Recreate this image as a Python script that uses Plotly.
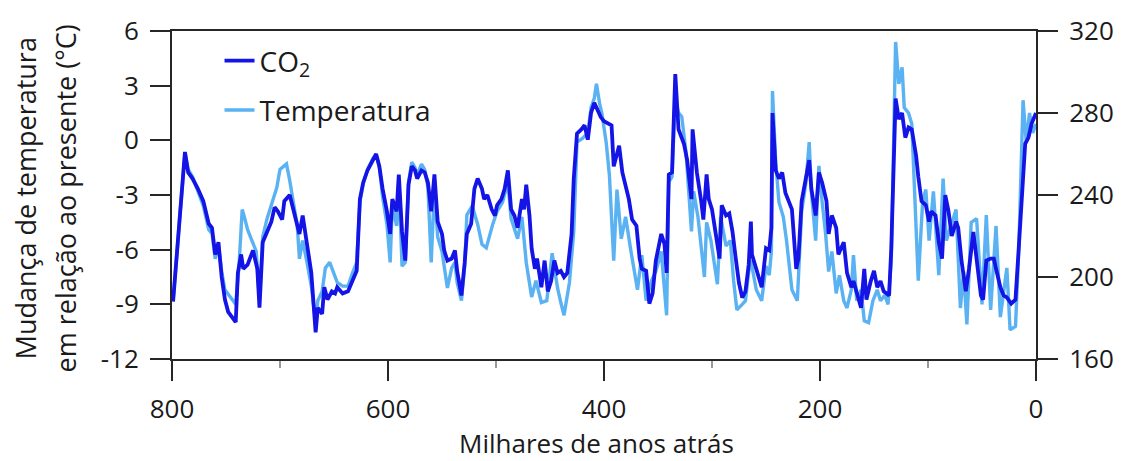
import plotly.graph_objects as go

# ---- data ----
co2_age = [799, 788, 785, 781, 776, 771, 766, 763, 760, 757, 754, 751, 748, 744, 741, 739, 736, 734, 730, 725,
           721, 719, 716, 712, 708, 705, 702, 698, 696, 691, 688, 684, 682, 679, 675, 671, 667, 665, 661, 659,
           656, 652, 649, 647, 642, 637, 633, 629, 626, 623, 619, 614, 611, 608, 605, 601, 598, 596, 592, 590,
           587, 584, 581, 578, 575, 573, 569, 566, 563, 560, 557, 554, 550, 548, 545, 541, 538, 536, 532, 529,
           527, 523, 520, 517, 513, 511, 508, 504, 501, 499, 495, 492, 489, 486, 483, 480, 476, 474, 472, 469,
           467, 464, 462, 458, 455, 452, 449, 446, 443, 440, 437, 434, 430, 428, 425, 421, 418, 415, 412, 409,
           406, 403, 400, 397, 393, 391, 386, 383, 379, 377, 374, 370, 367, 365, 361, 358, 355, 352, 347, 344,
           342, 340, 337, 334, 331, 329, 326, 323, 319, 318, 314, 310, 308, 305, 303, 300, 296, 293, 291, 287,
           284, 281, 278, 275, 272, 269, 266, 264, 263, 259, 257, 254, 250, 247, 245, 244, 241, 238, 235, 232,
           229, 226, 222, 220, 217, 213, 210, 208, 204, 201, 198, 194, 192, 189, 185, 183, 178, 175, 171, 169,
           166, 162, 159, 157, 153, 150, 147, 144, 141, 138, 136, 134, 132, 130, 127, 124, 121, 118, 115, 111,
           109, 106, 102, 99, 97, 93, 90, 87, 84, 81, 78, 74, 72, 69, 65, 62, 58, 55, 51, 49,
           46, 42, 39, 37, 33, 30, 27, 23, 19, 16, 13, 10, 7, 4, 0]
co2_ppm = [188, 261, 251, 248, 243, 237, 226, 224, 211, 217, 200, 189, 183, 180, 178, 202, 211, 204, 206, 213,
           204, 185, 217, 222, 227, 234, 232, 228, 237, 240, 233, 224, 221, 230, 217, 202, 173, 185, 182, 195,
           189, 193, 192, 195, 192, 193, 198, 203, 238, 246, 252, 257, 260, 254, 243, 232, 221, 238, 232, 250,
           222, 208, 245, 254, 252, 248, 252, 251, 246, 232, 250, 227, 221, 213, 208, 209, 213, 203, 191, 207,
           221, 226, 243, 248, 243, 238, 240, 233, 230, 235, 238, 243, 252, 233, 230, 224, 238, 233, 245, 230,
           214, 204, 209, 195, 208, 193, 198, 208, 202, 203, 200, 202, 221, 248, 270, 272, 274, 267, 280, 285,
           281, 278, 276, 275, 274, 254, 264, 251, 243, 238, 228, 225, 209, 204, 203, 187, 192, 208, 221, 216,
           202, 250, 251, 299, 272, 269, 265, 257, 238, 272, 251, 237, 228, 250, 238, 233, 219, 209, 235, 230,
           231, 222, 209, 197, 190, 193, 206, 227, 211, 204, 201, 195, 214, 213, 224, 280, 252, 248, 251, 241,
           237, 233, 204, 209, 237, 250, 257, 243, 230, 251, 246, 237, 221, 230, 224, 211, 217, 202, 195, 198,
           192, 185, 204, 189, 198, 203, 195, 198, 193, 192, 191, 214, 256, 287, 277, 280, 268, 273, 272, 259,
           249, 237, 235, 227, 232, 230, 217, 209, 240, 232, 220, 227, 224, 208, 193, 204, 222, 208, 191, 189,
           208, 209, 209, 204, 195, 191, 190, 187, 189, 214, 240, 265, 268, 275, 280]

temp_age = [799, 794, 788, 785, 781, 776, 771, 766, 763, 760, 757, 754, 751, 746, 741, 738, 735, 733, 730, 726,
            722, 719, 716, 712, 708, 703, 700, 696, 694, 691, 688, 684, 682, 679, 675, 671, 667, 665, 661, 658,
            654, 650, 647, 642, 637, 633, 629, 626, 623, 619, 614, 611, 608, 605, 601, 598, 596, 592, 590, 587,
            584, 581, 578, 575, 573, 569, 566, 563, 560, 557, 554, 550, 548, 545, 541, 538, 536, 532, 529, 527,
            522, 517, 513, 509, 503, 499, 494, 489, 486, 480, 476, 472, 467, 463, 458, 453, 448, 443, 440, 437,
            432, 428, 425, 420, 415, 412, 409, 407, 404, 402, 398, 395, 391, 388, 384, 380, 375, 369, 365, 361,
            356, 352, 347, 342, 340, 337, 334, 331, 328, 324, 319, 317, 313, 307, 305, 301, 295, 292, 287, 283,
            280, 277, 272, 269, 266, 264, 259, 254, 250, 247, 245, 244, 241, 238, 234, 231, 226, 221, 217, 213,
            210, 208, 204, 201, 198, 195, 192, 189, 185, 182, 178, 175, 171, 169, 166, 162, 159, 155, 151, 147,
            144, 140, 137, 134, 132, 130, 127, 124, 122, 118, 115, 111, 109, 105, 102, 99, 95, 90, 86, 83,
            79, 74, 70, 67, 64, 60, 55, 50, 46, 42, 37, 33, 27, 24, 19, 16, 12, 9, 6, 3, 0]
temp_c = [-8.8, -5.0, -0.7, -1.6, -2.0, -2.8, -3.6, -4.9, -5.1, -6.5, -5.8, -7.2, -8.2, -8.6, -9.0, -6.9, -3.8, -4.2, -4.9, -5.5,
          -6.1, -8.8, -5.3, -4.3, -3.6, -2.6, -1.6, -1.4, -1.3, -2.2, -3.4, -4.7, -6.5, -5.5, -6.7, -8.0, -10.0, -8.8, -8.3, -7.0,
          -6.7, -7.3, -7.8, -8.0, -8.0, -7.3, -6.7, -3.4, -2.4, -1.6, -1.0, -0.8, -1.5, -3.1, -4.6, -6.7, -3.6, -4.7, -2.2, -6.9,
          -6.7, -2.3, -1.2, -1.5, -1.9, -1.3, -1.6, -2.6, -6.7, -2.6, -5.3, -6.1, -7.0, -8.1, -7.0, -6.7, -7.8, -8.8, -6.9, -4.1,
          -3.6, -4.6, -5.7, -5.9, -4.6, -3.9, -3.4, -2.3, -4.3, -5.4, -4.2, -6.7, -8.6, -7.7, -8.9, -8.8, -6.2, -8.1, -8.9, -9.6,
          -7.8, -5.0, -0.1, 0.1, 0.4, 1.8, 2.3, 3.1, 2.0, 1.5, -0.1, -1.9, -6.6, -2.7, -5.4, -4.2, -6.1, -8.2, -6.3, -8.8,
          -7.7, -7.2, -6.1, -9.6, -2.3, -2.0, 2.3, 1.5, 1.3, -0.7, -5.0, -2.8, -4.2, -7.5, -4.5, -5.5, -7.9, -4.2, -5.8, -5.5,
          -7.7, -9.3, -9.0, -8.8, -7.2, -6.6, -8.2, -8.8, -6.9, -7.4, -6.1, 2.7, -1.2, -3.4, -4.2, -5.5, -8.2, -8.8, -3.9, -2.3,
          -0.1, -2.8, -5.5, -1.4, -3.4, -5.0, -7.2, -6.1, -8.4, -7.4, -8.8, -9.2, -8.2, -6.3, -8.8, -8.2, -9.9, -10.0, -8.8, -8.2,
          -8.8, -8.5, -9.0, -6.6, -0.7, 5.4, 3.1, 4.0, 1.8, 1.5, 0.9, -4.8, -7.7, -3.4, -2.7, -5.5, -2.8, -7.4, -2.1, -5.5,
          -4.7, -3.8, -9.2, -7.2, -10.1, -4.5, -4.3, -9.0, -4.1, -9.3, -4.7, -9.7, -7.0, -10.4, -10.2, -6.1, 2.2, -0.1, 1.5, 0.4, 0.9]

assert len(co2_age) == len(co2_ppm), (len(co2_age), len(co2_ppm))
assert len(temp_age) == len(temp_c), (len(temp_age), len(temp_c))

x_ticks = [800, 600, 400, 200, 0]
x_labels = ["800", "600", "400", "200", "0"]
t_ticks = [6, 3, 0, -3, -6, -9, -12]
t_labels = ["6", "3", "0", "-3", "-6", "-9", "-12"]
c_ticks = [320, 280, 240, 200, 160]
c_labels = ["320", "280", "240", "200", "160"]

FONT = "Open Sans"
TXT = "#1a1a1a"
AX = "#262626"

fig = go.Figure()
fig.add_trace(go.Scatter(x=co2_age, y=co2_ppm, mode="lines", name="CO<sub>2</sub>", yaxis="y2",
                         line=dict(color="#1414e6", width=3.8), legendrank=1, legendgroup="a"))
fig.add_trace(go.Scatter(x=temp_age, y=temp_c, mode="lines", name="Temperatura", yaxis="y",
                         line=dict(color="#5ab2f2", width=3.4), legendrank=2, legendgroup="b"))

fig.update_layout(
    width=1126, height=461,
    margin=dict(l=172, r=88, t=26, b=102),
    paper_bgcolor="white", plot_bgcolor="white",
    font=dict(family=FONT, size=26, color=TXT),
    showlegend=True,
    legend=dict(x=0.055, y=0.985, xanchor="left", yanchor="top", bgcolor="rgba(0,0,0,0)",
                font=dict(family=FONT, size=28, color=TXT), tracegroupgap=10),
    xaxis=dict(range=[800, 0], tickvals=x_ticks, ticktext=x_labels, ticks="outside", ticklen=20,
               tickwidth=2, tickcolor=AX, showline=True, linecolor=AX, linewidth=2, mirror=True,
               showgrid=False, zeroline=False, ticklabelstandoff=6,
               minor=dict(dtick=100, ticks="outside", ticklen=7, tickwidth=2, tickcolor="#9a9a9a", showgrid=False),
               tickfont=dict(size=26, color=TXT)),
    yaxis=dict(range=[-12, 6], tickvals=t_ticks, ticktext=t_labels, ticks="outside", ticklen=20,
               tickwidth=2, tickcolor=AX, showline=True, linecolor=AX, linewidth=2,
               showgrid=False, zeroline=False, ticklabelstandoff=6, tickfont=dict(size=26, color=TXT)),
    yaxis2=dict(range=[160, 320], tickvals=c_ticks, ticktext=c_labels, overlaying="y", side="right",
                ticks="outside", ticklen=20, tickwidth=2, tickcolor=AX, showline=True, linecolor=AX,
                linewidth=2, showgrid=False, zeroline=False, ticklabelstandoff=6,
                tickfont=dict(size=26, color=TXT)),
    annotations=[
        dict(text="Milhares de anos atrás", xref="paper", yref="paper", x=0.491, y=-0.255,
             xanchor="center", yanchor="middle", showarrow=False, font=dict(size=26, color=TXT)),
        dict(text="Mudança de temperatura", xref="paper", yref="paper", x=-0.170, y=0.49,
             xanchor="center", yanchor="middle", textangle=-90, showarrow=False, font=dict(size=27, color=TXT)),
        dict(text="em relação ao presente (°C)", xref="paper", yref="paper", x=-0.1236, y=0.49,
             xanchor="center", yanchor="middle", textangle=-90, showarrow=False, font=dict(size=27, color=TXT)),
    ],
)

fig.write_html("out.html")
